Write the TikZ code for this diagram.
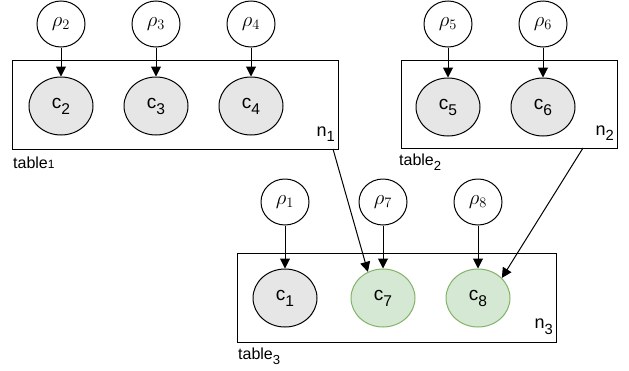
\documentclass[tikz,border=0pt]{standalone}
\usepackage{fontspec}
\setmainfont{Liberation Sans}
\usetikzlibrary{arrows.meta,calc,shapes.geometric}
\definecolor{obsfill}{HTML}{E6E6E6}
\definecolor{newfill}{HTML}{D5E8D4}
\definecolor{newline}{HTML}{82B366}
% lowered sans subscript, as in c2 or n1
\newcommand\lowsub[1]{\raisebox{-0.6ex}{\scalebox{0.82}{#1}}}
\begin{document}
\begin{tikzpicture}[x=1pt,y=-1pt,
  prior/.style={draw,ellipse,minimum width=48pt,minimum height=46pt,inner sep=0pt,line width=1pt,font=\fontsize{21}{21}\selectfont},
  colnode/.style={draw,ellipse,fill=obsfill,minimum width=64pt,minimum height=58pt,inner sep=0pt,line width=1pt,font=\fontsize{19}{19}\selectfont},
  newcol/.style={colnode,fill=newfill,draw=newline},
  plate/.style={draw,line width=1pt},
  edge/.style={-{Triangle[length=10pt,width=10pt]},line width=1pt},
  platelabel/.style={font=\fontsize{18}{18}\selectfont,anchor=south east,inner sep=0pt},
  tablelabel/.style={font=\fontsize{16}{16}\selectfont,anchor=west,inner sep=0pt}]
\useasboundingbox (0,0) rectangle (629,370);
% plates
\draw[plate] (12,60) rectangle (338,149);
\draw[plate] (401,60) rectangle (617,148);
\draw[plate] (237,253) rectangle (556,342);
\node[platelabel] (n1) at (335,142) {n\lowsub{1}};
\node[platelabel] (n2) at (614,141) {n\lowsub{2}};
\node[platelabel] (n3) at (553,335) {n\lowsub{3}};
\node[tablelabel] (t1) at (13,163) {table\fontsize{12}{12}\selectfont1};
\node[tablelabel] (t2) at (399,162) {table\lowsub{2}};
\node[tablelabel] (t3) at (238,356) {table\lowsub{3}};
% table 1
\node[prior] (r2) at (61,24) {$\rho_2$};
\node[prior] (r3) at (156,24) {$\rho_3$};
\node[prior] (r4) at (251,24) {$\rho_4$};
\node[colnode] (c2) at (61,106) {c\lowsub{2}};
\node[colnode] (c3) at (156,106) {c\lowsub{3}};
\node[colnode] (c4) at (251,106) {c\lowsub{4}};
% table 2
\node[prior] (r5) at (448,24) {$\rho_5$};
\node[prior] (r6) at (543,24) {$\rho_6$};
\node[colnode] (c5) at (448,107) {c\lowsub{5}};
\node[colnode] (c6) at (543,107) {c\lowsub{6}};
% table 3
\node[prior] (r1) at (285,202) {$\rho_1$};
\node[prior] (r7) at (383,202) {$\rho_7$};
\node[prior] (r8) at (478,202) {$\rho_8$};
\node[colnode] (c1) at (285,298) {c\lowsub{1}};
\node[newcol] (c7) at (383,298) {c\lowsub{7}};
\node[newcol] (c8) at (478,298) {c\lowsub{8}};
% prior edges
\foreach \a/\b in {r2/c2,r3/c3,r4/c4,r5/c5,r6/c6,r1/c1,r7/c7,r8/c8}
  \draw[edge] (\a) -- (\b);
% cross-table links
\coordinate (o1) at (333,149);
\coordinate (o2) at (583,148);
\draw[edge] (o1) -- (c7.120);
\draw[edge] (o2) -- (c8.40);
\end{tikzpicture}
\end{document}
